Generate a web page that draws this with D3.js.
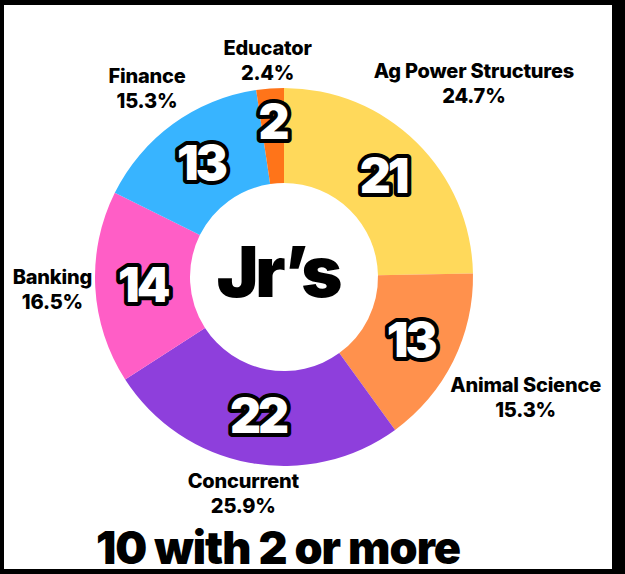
<!DOCTYPE html>
<html>
<head>
<meta charset="utf-8">
<script src="https://cdn.jsdelivr.net/npm/d3@7"></script>
<style>
  body { margin: 0; background: #000; }
  svg { display: block; }
  text { font-family: Inter, "Open Sans", sans-serif; }
</style>
</head>
<body>
<div id="chart"></div>
<script>
// Chart data
const categories = ["Ag Power Structures", "Animal Science", "Concurrent", "Banking", "Finance", "Educator"]
const counts = [21, 13, 22, 14, 13, 2]
const colors = ["#FFD95B", "#FF914D", "#8E3FDC", "#FF5EC6", "#38B4FF", "#FF7419"]
const centerLabel = "Jr\u2019s"
const footerLabel = "10 with 2 or more"

const svgWidth = 625
const svgHeight = 574

let svg = d3
  .select("#chart")
  .append("svg")
  .attr("width", svgWidth)
  .attr("height", svgHeight)

// white card inside the black frame
svg.append("rect")
  .attr("x", 4)
  .attr("y", 5)
  .attr("width", 608)
  .attr("height", 564)
  .attr("fill", "#fff")

const cx = 284
const cy = 277
const outerR = 189
const innerR = 94

let total = d3.sum(counts)
let pct = d3.format(".1%")

let pie = d3.pie().sort(null).value(d => d.value)
let arc = d3.arc().innerRadius(innerR).outerRadius(outerR)
let color = d3.scaleOrdinal().domain(categories).range(colors)

let data = categories.map((c, i) => ({ name: c, value: counts[i] }))
let arcs = pie(data)

let chartGroup = svg.append("g")
  .attr("transform", `translate(${cx}, ${cy})`)

chartGroup.selectAll("path")
  .data(arcs)
  .enter()
  .append("path")
  .attr("d", arc)
  .attr("fill", d => color(d.data.name))

// numbers inside slices
chartGroup.selectAll("text.count")
  .data(arcs)
  .enter()
  .append("text")
  .classed("count", true)
  .attr("transform", d => {
    let c = arc.centroid(d)
    if (d.data.value / total < 0.05) {
      // the small slice label sits a bit further out
      let a = (d.startAngle + d.endAngle) / 2
      c = [Math.sin(a) * 156, -Math.cos(a) * 156]
    }
    return `translate(${c[0]}, ${c[1]})`
  })
  .attr("text-anchor", "middle")
  .attr("dy", "0.36em")
  .style("font-size", "48px")
  .style("font-weight", 900)
  .style("letter-spacing", "-3px")
  .style("fill", "#fff")
  .style("stroke", "#000")
  .style("stroke-width", 8)
  .style("stroke-linejoin", "round")
  .style("paint-order", "stroke")
  .text(d => d.data.value)

// outside labels: name + percent, pushed out along the slice middle until clear of the ring
let labels = chartGroup.selectAll("g.lbl")
  .data(arcs)
  .enter()
  .append("g")
  .classed("lbl", true)

labels.append("text")
  .attr("text-anchor", "middle")
  .attr("y", -3)
  .style("font-size", "20px")
  .style("font-weight", 800)
  .style("letter-spacing", "-0.2px")
  .text(d => d.data.name)

labels.append("text")
  .attr("text-anchor", "middle")
  .attr("y", 22)
  .style("font-size", "20px")
  .style("font-weight", 800)
  .style("letter-spacing", "-0.2px")
  .text(d => pct(d.data.value / total))

const clearR = 191
labels.each(function(d) {
  let bb = this.getBBox()
  let a = (d.startAngle + d.endAngle) / 2
  let ux = Math.sin(a), uy = -Math.cos(a)
  let ox = bb.x + bb.width / 2, oy = bb.y + bb.height / 2
  let hw = bb.width / 2, hh = bb.height / 2
  let t = clearR
  for (; t < 400; t += 1) {
    let x = ux * t, y = uy * t
    let nx = Math.max(x - hw, Math.min(0, x + hw))
    let ny = Math.max(y - hh, Math.min(0, y + hh))
    if (Math.hypot(nx, ny) >= clearR) break
  }
  d3.select(this).attr("transform", `translate(${ux * t - ox}, ${uy * t - oy})`)
})

// centre text
chartGroup.append("text")
  .attr("text-anchor", "middle")
  .attr("x", -6)
  .attr("y", 20)
  .style("font-size", "70px")
  .style("font-weight", 900)
  .style("letter-spacing", "-3px")
  .text(centerLabel)

// footer
svg.append("text")
  .attr("x", 278)
  .attr("y", 564)
  .attr("text-anchor", "middle")
  .style("font-size", "45px")
  .style("font-weight", 900)
  .style("letter-spacing", "-1px")
  .text(footerLabel)
</script>
</body>
</html>
